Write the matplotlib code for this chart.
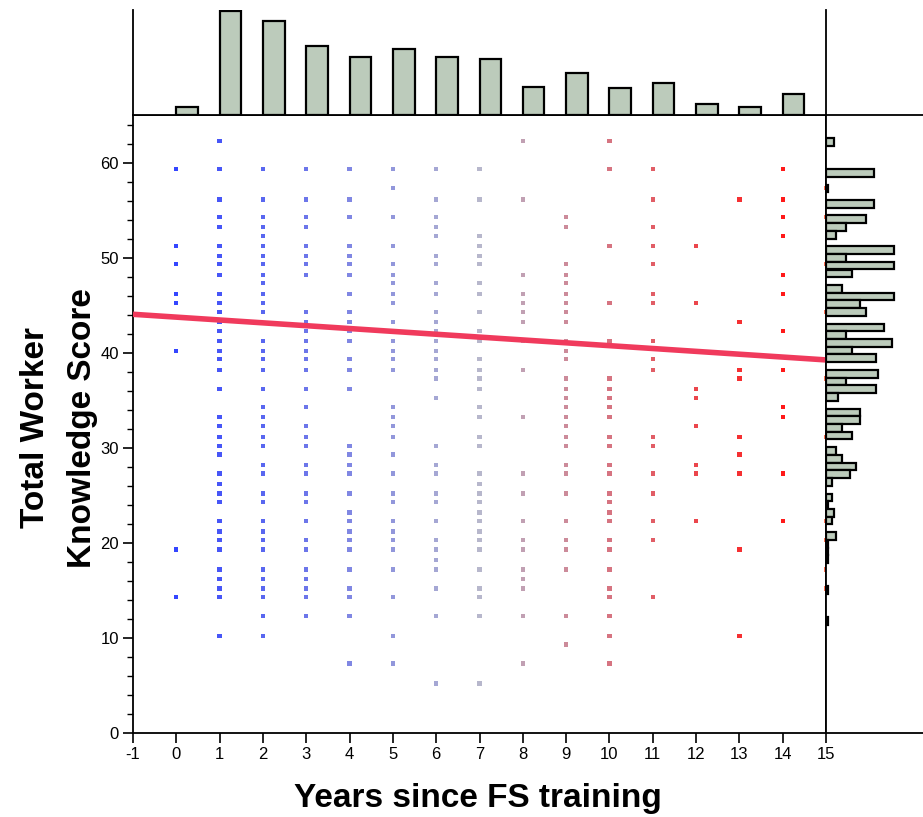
import numpy as np
import matplotlib
matplotlib.use("Agg")
import matplotlib.pyplot as plt
from matplotlib.colors import LinearSegmentedColormap, Normalize

plt.rcParams['font.family'] = ['Liberation Sans', 'DejaVu Sans']
plt.rcParams['axes.unicode_minus'] = False

# scores per year since training (distinct points visible in the scatter)
scores_by_year = {
    0: [59.3, 51.2, 49.3, 46.2, 45.2, 40.2, 19.3, 14.3],
    1: [62.3, 59.3, 56.1, 54.3, 53.2, 51.2, 50.2, 49.3, 48.2, 46.2, 45.2, 44.3, 43.2, 42.3,
        41.2, 40.2, 39.3, 38.2, 36.2, 33.2, 32.3, 31.1, 30.2, 29.3, 27.3, 26.2, 25.2, 24.3,
        22.3, 21.2, 20.3, 19.3, 17.2, 16.2, 15.2, 14.3, 10.2],
    2: [59.3, 56.1, 54.3, 53.2, 52.3, 51.2, 50.2, 49.3, 48.2, 47.3, 46.2, 45.2, 44.3, 41.2,
        40.2, 39.3, 38.2, 36.2, 34.3, 33.2, 32.3, 31.1, 30.2, 28.2, 27.3, 25.2, 24.3, 22.3,
        21.2, 20.3, 19.3, 17.2, 16.2, 15.2, 14.3, 12.3, 10.2],
    3: [59.3, 56.1, 54.3, 53.2, 51.2, 50.2, 49.3, 48.2, 44.3, 43.2, 42.3, 41.2, 40.2, 39.3,
        38.2, 36.2, 34.3, 32.3, 31.1, 30.2, 28.2, 27.3, 25.2, 24.3, 22.3, 20.3, 19.3, 17.2,
        16.2, 15.2, 14.3, 12.3],
    4: [59.3, 56.1, 54.3, 51.2, 50.2, 49.3, 48.2, 46.2, 44.3, 43.2, 42.3, 41.2, 39.3, 38.2,
        36.2, 30.2, 29.3, 28.2, 27.3, 25.2, 23.2, 22.3, 21.2, 20.3, 19.3, 17.2, 15.2, 14.3,
        12.3, 7.3],
    5: [59.3, 57.3, 54.3, 51.2, 49.3, 48.2, 47.3, 46.2, 45.2, 43.2, 41.2, 40.2, 39.3, 38.2,
        34.3, 33.2, 32.3, 31.1, 29.3, 27.3, 25.2, 24.3, 22.3, 21.2, 20.3, 19.3, 17.2, 14.3,
        10.2, 7.3],
    6: [59.3, 56.1, 54.3, 53.2, 52.3, 50.2, 49.3, 47.3, 46.2, 44.3, 43.2, 42.3, 41.2, 40.2,
        39.3, 38.2, 37.3, 35.2, 30.2, 28.2, 27.3, 25.2, 24.3, 22.3, 20.3, 19.3, 18.2, 17.2,
        15.2, 12.3, 5.2],
    7: [59.3, 56.1, 52.3, 51.2, 50.2, 49.3, 47.3, 46.2, 44.3, 42.3, 41.2, 39.3, 38.2, 37.3,
        36.2, 34.3, 33.2, 31.1, 30.2, 27.3, 26.2, 25.2, 24.3, 23.2, 22.3, 21.2, 20.3, 19.3,
        17.2, 15.2, 14.3, 12.3, 5.2],
    8: [62.3, 56.1, 48.2, 46.2, 45.2, 44.3, 43.2, 41.2, 38.2, 33.2, 27.3, 25.2, 22.3, 20.3,
        19.3, 17.2, 16.2, 15.2, 12.3, 7.3],
    9: [54.3, 53.2, 49.3, 48.2, 47.3, 46.2, 45.2, 44.3, 43.2, 41.2, 40.2, 39.3, 37.3, 36.2,
        35.2, 34.3, 33.2, 32.3, 31.1, 30.2, 28.2, 27.3, 25.2, 22.3, 20.3, 19.3, 17.2, 12.3, 9.3],
    10: [62.3, 59.3, 51.2, 45.2, 41.2, 37.3, 36.2, 35.2, 34.3, 33.2, 31.1, 30.2, 28.2, 27.3,
         25.2, 24.3, 23.2, 22.3, 20.3, 19.3, 17.2, 15.2, 14.3, 12.3, 10.2, 7.3],
    11: [59.3, 56.1, 53.2, 51.2, 49.3, 46.2, 45.2, 41.2, 39.3, 38.2, 31.1, 30.2, 27.3, 25.2,
         22.3, 20.3, 14.3],
    12: [51.2, 45.2, 36.2, 35.2, 32.3, 28.2, 27.3, 22.3],
    13: [56.1, 43.2, 38.2, 37.3, 31.1, 29.3, 27.3, 19.3, 10.2],
    14: [59.3, 56.1, 54.3, 52.3, 48.2, 46.2, 42.3, 38.2, 34.3, 33.2, 27.3, 22.3],
    15: [57.3, 54.3, 49.3, 44.3, 37.3, 31.1, 22.3, 20.3, 17.2, 15.2],
}

# marginal histogram of years (counts)
years = [0, 1, 2, 3, 4, 5, 6, 7, 8, 9, 10, 11, 12, 13, 14]
year_counts = [10, 125, 113, 83, 70, 79, 70, 68, 34, 51, 32, 39, 13, 10, 25]

# marginal histogram of scores (bin centres and counts)
score_bin_centers = [62.16, 58.91, 57.28, 55.66, 54.03, 53.22, 52.41, 50.78, 49.97, 49.16,
                     48.34, 46.72, 45.91, 45.09, 44.28, 42.66, 41.84, 41.03, 40.22, 39.41,
                     37.78, 36.97, 36.16, 35.34, 33.72, 32.91, 32.09, 31.28, 29.66, 28.84,
                     28.03, 27.22, 26.41, 24.78, 23.97, 23.16, 22.34, 20.72, 19.91, 19.09,
                     18.28, 15.03, 11.78]
score_counts = [4, 24, 1, 24, 20, 10, 5, 34, 10, 34,
                13, 8, 34, 17, 20, 29, 10, 33, 13, 25,
                26, 10, 25, 6, 17, 17, 8, 13, 5, 8,
                15, 12, 3, 3, 1, 4, 3, 5, 1, 1,
                1, 1, 1]
score_bin_width = 65 / 80

# linear fit
fit_intercept = 43.74
fit_slope = -0.30

W, H = 923, 817
fig = plt.figure(figsize=(W / 100, H / 100), dpi=100)

def frac(x0, y0, x1, y1):
    return [x0 / W, 1 - y1 / H, (x1 - x0) / W, (y1 - y0) / H]

ax = fig.add_axes(frac(133, 115, 826, 733))
ax_top = fig.add_axes(frac(133, 10, 826, 115))
ax_right = fig.add_axes(frac(826, 115, 923, 733))

cmap = LinearSegmentedColormap.from_list("bgr", ["#1e32ff", "#b0b0c8", "#ff0000"])
cmap.set_over("#f86040")
norm = Normalize(vmin=0, vmax=14)

xs, ys = [], []
for yr, vals in scores_by_year.items():
    xs += [yr] * len(vals)
    ys += vals
xs = np.array(xs)
ys = np.array(ys)
ax.scatter(xs, ys, c=xs, cmap=cmap, norm=norm, marker='s', s=9.5, linewidths=0, alpha=0.9, zorder=2)

xline = np.array([-1, 15])
ax.plot(xline, fit_intercept + fit_slope * xline, color='#f03a5c', lw=4.0, zorder=3,
        solid_capstyle='butt')

ax.set_xlim(-1, 15)
ax.set_ylim(0, 65)
ax.set_xticks(range(-1, 16))
ax.set_yticks(range(0, 61, 10))
ax.set_yticks(range(0, 66, 2), minor=True)
ax.tick_params(axis='both', which='major', direction='out', length=7, width=1.2,
               labelsize=12, pad=3)
ax.tick_params(axis='y', which='minor', direction='out', length=4, width=1.0)
for s in ax.spines.values():
    s.set_linewidth(1.3)

# top histogram
ax_top.bar(years, year_counts, width=0.5, align='edge', color='#bccbbb', edgecolor='black',
           linewidth=1.6)
ax_top.set_xlim(-1, 15)
ax_top.set_ylim(0, 126.5)
ax_top.set_xticks([])
ax_top.set_yticks([])
ax_top.spines['top'].set_visible(False)
for s in ax_top.spines.values():
    s.set_linewidth(1.3)

# right histogram
ax_right.barh(score_bin_centers, score_counts, height=score_bin_width, color='#bccbbb',
              edgecolor='black', linewidth=1.6)
ax_right.set_ylim(0, 65)
ax_right.set_xlim(0, 48.5)
ax_right.set_xticks([])
ax_right.set_yticks([])
ax_right.spines['right'].set_visible(False)
for s in ax_right.spines.values():
    s.set_linewidth(1.3)

fig.text(478 / W, 1 - 798 / H, "Years since FS training", fontsize=24, fontweight='bold',
         ha='center', va='center')
fig.text(59 / W, 1 - 428 / H, "Total Worker\nKnowledge Score", fontsize=24,
         fontweight='bold', ha='center', va='center', rotation=90, linespacing=1.7,
         multialignment='center')

fig.savefig("out.png", dpi=100)
